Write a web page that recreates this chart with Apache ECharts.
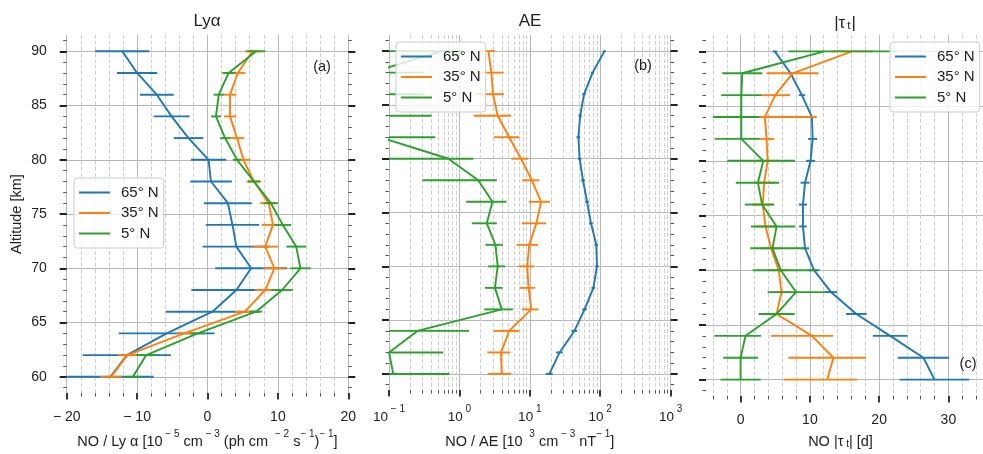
<!DOCTYPE html>
<html><head><meta charset="utf-8">
<script src="https://cdn.jsdelivr.net/npm/echarts@6/dist/echarts.min.js"></script>
<style>html,body{margin:0;padding:0;background:#fff}#c{width:983px;height:454px}</style>
</head><body><div id="c"></div>
<script>
// ---------------- DATA ----------------
const altitudes = [60,62,64,66,68,70,72,74,76,78,80,82,84,86,88,90];
const seriesNames = ['65° N','35° N','5° N'];
const panelTitles = ['Lyα','AE','|τ t|'];
const panelTags = ['(a)','(b)','(c)'];
const altTicks = [60,65,70,75,80,85,90];
const lyaTicks = [-20,-10,0,10,20];
const aeTicks = [0.1,1,10,100,1000];
const tauTicks = [0,10,20,30];

// (a) NO / Ly alpha
const lyaN65 = [-13.8,-11.45,-5.8,0.7,4.1,6.2,4.1,3.55,2.9,0.5,0.15,-2.7,-5.1,-7.2,-10.0,-12.1];
const lyaN65Err = [6.15,6.25,6.8,6.6,6.4,5.1,4.8,3.8,3.4,2.95,2.5,2.1,2.55,2.4,2.85,3.85];
const lyaN35 = [-13.7,-11.4,-3.3,5.3,8.2,9.5,8.2,9.3,8.7,6.6,5.1,4.2,3.2,3.2,4.3,6.4];
const lyaN35Err = [1.5,1.3,1.0,1.4,1.5,1.6,1.8,1.6,1.2,1.05,1.0,1.0,0.85,0.9,1.1,1.1];
const lyaN5 = [-10.6,-8.7,-1.4,6.9,10.6,13.2,12.6,10.7,9.0,6.6,4.2,2.5,1.2,1.6,3.0,6.9];
const lyaN5Err = [1.2,1.4,1.0,0.85,1.5,1.45,1.4,1.2,1.0,0.85,0.6,0.7,0.7,0.75,0.9,1.3];

// (b) NO / AE
const aeN65 = [19,26.5,43,60,80,90,88,74,65,57,51,49,52,59,78,115];
const aeN65Err = [2.1,2.9,4,4.5,5,5,5,4.5,4,3.5,3,3,3,3.5,4,5];
const aeN35 = [4.0,3.9,5.1,10.5,9.6,9.2,9.8,12.4,14.5,10.7,7.5,5.1,3.5,3.0,2.85,2.58];
const aeN35Err = [1.47,1.4,2.0,2.8,2.4,2.3,3.3,4.7,4.8,2.9,2.0,2.0,1.9,1.3,1.4,0.64];
const aeN5 = [0.115,0.1,0.253,4.0,3.2,3.5,3.25,2.45,2.95,1.85,0.70,0.075,0.05,0.05,0.055,0.56];
const aeN5Err = [0.61,0.49,1.12,1.75,0.9,0.95,0.9,0.95,1.7,1.55,0.88,0.38,0.35,0.26,0.26,0.5];

// (c) NO |tau_t|   (entries [minus, plus] are asymmetric)
const tauN65 = [28.0,26.4,21.6,16.7,13.05,10.6,9.3,9.0,9.0,9.3,10.1,10.4,10.3,8.85,7.2,4.94];
const tauN65Err = [5.0,3.7,2.5,1.5,0.9,0.8,0.6,0.55,0.6,0.65,0.65,0.65,0.4,0.45,0.3,0.3];
const tauN35 = [12.5,13.4,10.3,5.2,5.9,5.5,4.4,3.6,3.2,3.4,3.9,3.75,3.5,5.0,7.5,16.1];
const tauN35Err = [[6.3,4.3],[6.5,4.7],[5.9,3.1],1.5,1.5,1.5,1.5,1.5,1.5,1.5,1.5,1.1,7.5,2.15,3.75,3.0];
const tauN5 = [0.0,0.0,0.7,5.2,8.0,5.8,4.6,5.2,3.1,2.5,3.27,0.1,0.1,0.1,0.24,12.1];
const tauN5Err = [2.9,2.5,[4.5,2.25],2.6,[4.1,4.5],[4.05,5.3],[3.2,4.65],[3.7,2.7],[2.5,1.75],[3.2,3.05],[5.2,4.6],[3.8,2.6],[4.1,2.6],2.9,2.9,[5.2,10.5]];

// ---------------- CHART ----------------
const FONT = '"Liberation Sans", Arial, Helvetica, sans-serif';
const colors = ['#1f77b4','#ff7f0e','#2ca02c'];
const TXT = '#222';
const LW = 1.9;
const panelData = [
  [[lyaN65,lyaN65Err],[lyaN35,lyaN35Err],[lyaN5,lyaN5Err]],
  [[aeN65,aeN65Err],[aeN35,aeN35Err],[aeN5,aeN5Err]],
  [[tauN65,tauN65Err],[tauN35,tauN35Err],[tauN5,tauN5Err]]
];
const panelLeft = [66.7, 389, 706];
const panelWidth = 281.6, gridTop = 35, gridHeight = 364;
const nameRich = {
  n: {fontSize: 14.5, lineHeight: 20, verticalAlign: 'bottom', fontFamily: FONT, color: TXT},
  s: {fontSize: 10, lineHeight: 9, verticalAlign: 'top', fontFamily: FONT, color: TXT},
  b: {fontSize: 10, lineHeight: 14, verticalAlign: 'bottom', fontFamily: FONT, color: TXT}
};
const tickRich = {
  n: {fontSize: 13.5, lineHeight: 20, verticalAlign: 'bottom', fontFamily: FONT, color: TXT},
  s: {fontSize: 10, lineHeight: 9, verticalAlign: 'top', fontFamily: FONT, color: TXT}
};
const xNames = [
  '{n|NO / Ly α [10}{s| \u2212 5}{n| cm}{s| \u2212 3}{n| (ph cm }{s| \u2212 2}{n| s}{s|\u2212 1}{n|)}{s|\u2212 1}{n|]}',
  '{n|NO / AE [10 }{s| 3}{n| cm}{s| \u2212 3}{n| nT}{s|\u2212 1}{n|]}',
  '{n|NO |τ}{b| t}{n|| [d]}'
];
function fmtLin(v) { return v < 0 ? '\u2212 ' + Math.abs(v) : String(v); }
function fmtLog(v) {
  const e = Math.round(Math.log10(v));
  return '{n|10}{s|' + (e < 0 ? ' \u2212 ' + (-e) : ' ' + e) + '}';
}
function range(a, b, step, skip) {
  const out = [];
  for (let v = a; v <= b + 1e-9; v += step) {
    const r = Math.round(v * 1000) / 1000;
    if (!skip || skip.indexOf(r) < 0) out.push(r);
  }
  return out;
}
const logMinor = [];
for (let k = -1; k < 3; k++) for (let m = 2; m <= 9; m++) logMinor.push(Math.log10(m) + k);

const xCfg = [
  {type: 'value', min: -20, max: 20, ticks: lyaTicks, minor: range(-18, 18, 2, lyaTicks), mmin: -20, mmax: 20},
  {type: 'log', min: 0.1, max: 1000, ticks: aeTicks, minor: logMinor, mmin: -1, mmax: 3},
  {type: 'value', min: -5, max: 35, ticks: tauTicks, minor: range(-4, 34, 2, tauTicks), mmin: -5, mmax: 35}
];
const altMinor = range(59, 91, 1, altTicks);
const noLine = {show: false, onZero: false};

const grids = [], xAxes = [], yAxes = [], series = [], graphics = [];
for (let p = 0; p < 3; p++) {
  grids.push({left: panelLeft[p], top: gridTop, width: panelWidth, height: gridHeight});
  const c = xCfg[p];
  const major = {
    type: c.type, gridIndex: p, position: 'bottom', min: c.min, max: c.max,
    axisLine: noLine,
    axisTick: {show: true, length: 6.5, lineStyle: {color: TXT, width: 1.8}},
    axisLabel: {show: true, margin: c.type === 'log' ? 14 : 17, fontSize: 14, color: TXT, fontFamily: FONT,
      showMinLabel: true, showMaxLabel: true,
      formatter: c.type === 'log' ? fmtLog : fmtLin, rich: tickRich},
    splitLine: {show: true, lineStyle: {color: '#b8b8b8', width: 1}},
    name: xNames[p], nameLocation: 'middle', nameGap: 33,
    nameTextStyle: {rich: nameRich, fontSize: 14.5, fontFamily: FONT, color: TXT, padding: p === 2 ? [0, 8, 0, 0] : 0}
  };
  if (c.type === 'log') { major.logBase = 10; }
  else { major.axisTick.customValues = c.ticks; major.axisLabel.customValues = c.ticks; }
  xAxes.push(major);
  xAxes.push({
    type: 'value', gridIndex: p, position: 'bottom', min: c.mmin, max: c.mmax,
    axisLine: noLine,
    axisTick: {show: true, length: 3.5, lineStyle: {color: '#555', width: 1}, customValues: c.minor},
    axisLabel: {show: false},
    splitLine: {show: true, lineStyle: {color: '#d0d0d0', width: 1, type: [4, 2]}}
  });
  ['left', 'right'].forEach(function (side) {
    const y1 = {
      type: 'value', gridIndex: p, position: side, min: 58.5, max: 91.5,
      axisLine: noLine,
      axisTick: {show: true, length: 7, lineStyle: {color: TXT, width: 2}, customValues: altTicks},
      axisLabel: {show: p === 0 && side === 'left', customValues: altTicks, margin: 20, fontSize: 14, color: TXT, fontFamily: FONT},
      splitLine: {show: side === 'left', lineStyle: {color: '#b8b8b8', width: 1}}
    };
    if (p === 0 && side === 'left') {
      y1.name = 'Altitude [km]'; y1.nameLocation = 'middle'; y1.nameGap = 42;
      y1.nameTextStyle = {fontSize: 14.5, fontFamily: FONT, color: TXT};
    }
    yAxes.push(y1);
    yAxes.push({
      type: 'value', gridIndex: p, position: side, min: 58.5, max: 91.5,
      axisLine: noLine,
      axisTick: {show: true, length: 3.5, lineStyle: {color: '#555', width: 1}, customValues: altMinor},
      axisLabel: {show: false}, splitLine: {show: false}
    });
  });
  for (let s = 0; s < 3; s++) {
    const vals = panelData[p][s][0], errs = panelData[p][s][1];
    const col = colors[s];
    series.push({
      type: 'line', name: seriesNames[s], xAxisIndex: 2 * p, yAxisIndex: 4 * p,
      data: altitudes.map(function (a, i) { return [vals[i], a]; }),
      showSymbol: false, symbol: 'none', lineStyle: {color: col, width: LW}, itemStyle: {color: col},
      z: 3 + 2 * s, silent: true, animation: false, clip: true
    });
    const isLog = c.type === 'log';
    series.push({
      type: 'custom', name: seriesNames[s], xAxisIndex: 2 * p, yAxisIndex: 4 * p,
      data: altitudes.map(function (a, i) {
        const e = errs[i];
        const m = Array.isArray(e) ? e[0] : e, pl = Array.isArray(e) ? e[1] : e;
        let lo = vals[i] - m;
        if (isLog && lo <= 0) lo = 1e-4;
        return [lo, vals[i] + pl, a];
      }),
      encode: {x: [0, 1], y: 2},
      clip: true, silent: true, animation: false, z: 3 + 2 * s,
      renderItem: function (params, api) {
        const y = api.value(2);
        const a = api.coord([api.value(0), y]);
        const b = api.coord([api.value(1), y]);
        return {type: 'line', shape: {x1: a[0], y1: a[1], x2: b[0], y2: b[1]},
          style: {stroke: col, lineWidth: LW}};
      }
    });
  }
}

const titleX = [207, 530, 845];
for (let p = 0; p < 3; p++) {
  graphics.push({
    type: 'text', x: titleX[p], y: 21, z: 30,
    style: p === 2 ? {
      text: '{t||τ}{u|t}{t||}', align: 'center', verticalAlign: 'middle', textAlign: 'center', textVerticalAlign: 'middle',
      rich: {t: {fontSize: 17, fontFamily: FONT, fill: TXT, lineHeight: 22, verticalAlign: 'bottom'},
             u: {fontSize: 11.5, fontFamily: FONT, fill: TXT, lineHeight: 15, verticalAlign: 'bottom', padding: [0, 1, 0, 2]}}
    } : {
      text: panelTitles[p], align: 'center', verticalAlign: 'middle', textAlign: 'center', textVerticalAlign: 'middle',
      fontSize: 17, fontFamily: FONT, fill: TXT
    }
  });
}
const tagPos = [[322, 67], [643, 66], [968, 364]];
for (let p = 0; p < 3; p++) {
  graphics.push({
    type: 'text', x: tagPos[p][0], y: tagPos[p][1], z: 30,
    style: {text: panelTags[p], align: 'center', verticalAlign: 'middle', textAlign: 'center', textVerticalAlign: 'middle',
      fontSize: 14.5, fontFamily: FONT, fill: TXT}
  });
}

const legendPos = [[74, 178], [396, 42], [890, 42]];
const legends = legendPos.map(function (pos) {
  return {
    data: seriesNames.map(function (n) { return {name: n, icon: 'rect'}; }),
    orient: 'vertical', left: pos[0], top: pos[1], itemWidth: 31, itemHeight: 2, itemGap: 5.5,
    padding: [7, 5, 7, 5], backgroundColor: 'rgba(255,255,255,0.8)', borderColor: '#cccccc', borderWidth: 1, borderRadius: 3,
    textStyle: {fontSize: 15, color: TXT, fontFamily: FONT, padding: [0, 0, 0, 6]},
    selectedMode: false, z: 20
  };
});

const chart = echarts.init(document.getElementById('c'), null, {renderer: 'canvas'});
chart.setOption({
  animation: false,
  backgroundColor: '#ffffff',
  grid: grids, xAxis: xAxes, yAxis: yAxes, series: series,
  legend: legends, graphic: graphics
});
</script></body></html>
